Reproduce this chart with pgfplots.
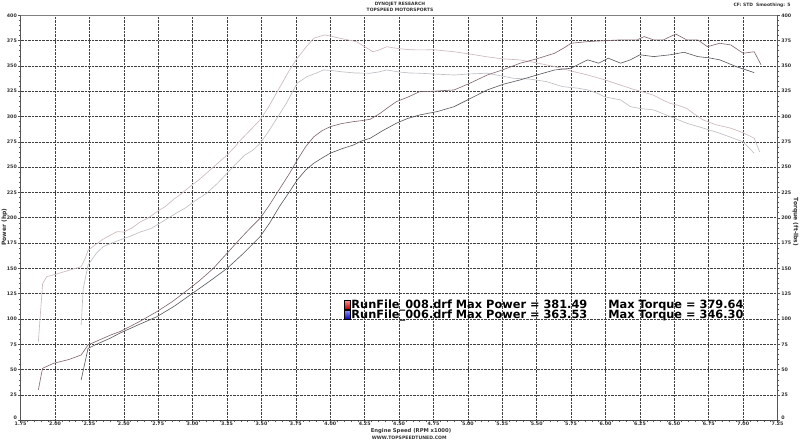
\documentclass[border=0pt]{standalone}
\usepackage{fontspec}
\setmainfont{DejaVu Sans}
\usepackage{pgfplots}
\pgfplotsset{compat=1.18}
\definecolor{pwA}{HTML}{7E6268}
\definecolor{pwB}{HTML}{55555E}
\definecolor{tqA}{HTML}{CDB8BC}
\definecolor{tqB}{HTML}{BEBEC6}
\definecolor{axc}{HTML}{555555}
\definecolor{lblc}{HTML}{333333}
\newcommand{\tickfont}{\fontsize{4.8}{5.5}\selectfont\bfseries}
\begin{document}
\begin{tikzpicture}
\begin{axis}[
  at={(0,0)}, anchor=south west,
  scale only axis, width=757bp, height=405bp,
  xmin=1.75, xmax=7.25, ymin=0, ymax=400,
  axis x line*=bottom, axis y line*=left,
  axis line style={-, draw=axc, line width=1.3bp},
  xtick={1.75,2.00,2.25,2.50,2.75,3.00,3.25,3.50,3.75,4.00,4.25,4.50,4.75,5.00,5.25,5.50,5.75,6.00,6.25,6.50,6.75,7.00,7.25},
  ytick={25,50,...,400},
  extra y ticks={0},
  extra y tick style={yticklabel style={yshift=2.5bp}},
  minor x tick num=4, minor y tick num=4,
  tick align=outside,
  major tick length=2.5bp, minor tick length=1.8bp,
  tick style={draw=axc, line width=0.5bp},
  grid=major,
  major grid style={densely dotted, draw=black!75, line width=0.6bp},
  /pgf/number format/assume math mode=true,
  xticklabel style={font=\tickfont, text=lblc, inner sep=0pt, yshift=0.6bp, /pgf/number format/.cd, fixed, fixed zerofill, precision=2},
  yticklabel style={font=\tickfont, text=lblc, inner sep=1bp},
  legend style={at={(axis cs:4.10,120)}, anchor=north west, draw=none, fill=none,
    font=\fontsize{11.4}{12}\selectfont\bfseries, inner sep=0pt, row sep=-1.5bp,
    nodes={inner sep=0.8bp}},
  legend cell align=left,
]
% 008 torque
\addplot[tqA, line width=0.65bp, forget plot] coordinates {
(1.879,77.6)(1.91,135)(1.94,141.9)(2.00,144)(2.11,148.5)(2.19,151.7)(2.22,160)(2.24,168)(2.30,174)(2.35,179)(2.45,186.3)(2.50,186)(2.56,190)(2.62,196)(2.68,200)(2.74,206)(2.80,211)(2.86,218)(2.92,224)(2.98,230.8)(3.05,238)(3.10,244)(3.15,250)(3.20,256)(3.25,262)(3.30,269)(3.35,277)(3.40,284)(3.45,291)(3.49,296.7)(3.55,309)(3.60,321)(3.65,333)(3.70,345)(3.76,357.6)(3.82,368)(3.88,377.4)(3.96,380.6)(4.02,379)(4.07,377.3)(4.19,374)(4.25,369)(4.31,364)(4.36,366)(4.41,369)(4.50,367)(4.58,366)(4.65,365.8)(4.75,366)(4.90,364)(5.00,362)(5.14,359)(5.25,357)(5.38,355.9)(5.50,353)(5.63,349.3)(5.75,345)(5.87,341)(6.00,336)(6.11,331)(6.20,327)(6.28,324)(6.35,321)(6.42,316)(6.47,313)(6.53,311)(6.59,308)(6.65,302)(6.71,296.6)(6.80,292)(6.91,288.5)(7.00,284)(7.08,278.6)(7.12,265)
};
% 006 torque
\addplot[tqB, line width=0.65bp, forget plot] coordinates {
(2.19,94)(2.205,130)(2.24,153.4)(2.30,165)(2.35,171.5)(2.41,175)(2.47,178)(2.55,182)(2.62,186)(2.70,189.6)(2.79,197)(2.88,204.5)(2.95,210)(3.02,217)(3.10,224)(3.18,234)(3.25,244)(3.32,254)(3.38,262)(3.44,267)(3.49,273.6)(3.55,285)(3.62,300)(3.68,313)(3.76,333)(3.83,339.4)(3.90,343)(3.95,346)(4.01,345.5)(4.07,344.4)(4.18,343)(4.29,342.8)(4.35,344)(4.41,346)(4.50,344)(4.58,343)(4.65,342.8)(4.75,342)(4.90,341)(5.00,342)(5.14,342.8)(5.25,340)(5.33,337.8)(5.45,337)(5.57,334.5)(5.63,332)(5.69,329.5)(5.80,328)(5.87,326.3)(5.94,323)(5.99,319.6)(6.05,318)(6.11,316.4)(6.18,309.8)(6.25,308)(6.35,306.5)(6.47,300)(6.59,293.4)(6.70,289)(6.83,283.5)(6.92,279)(7.00,275)(7.08,263.7)
};
% 008 power
\addplot[pwA, line width=0.6bp, forget plot] coordinates {
(1.879,30)(1.90,45)(1.91,51.4)(1.99,56.3)(2.10,60)(2.19,64.5)(2.24,74.4)(2.30,78)(2.40,84)(2.47,87.5)(2.55,93)(2.62,98)(2.74,107.3)(2.85,117)(2.98,130.4)(3.05,138)(3.15,150)(3.25,165)(3.35,180)(3.42,190)(3.49,199.5)(3.55,211)(3.62,226)(3.70,243)(3.76,257)(3.82,270)(3.88,280)(3.94,286)(4.00,290)(4.08,293)(4.17,295)(4.23,296)(4.29,297.3)(4.36,303)(4.42,309)(4.48,314.7)(4.56,319)(4.65,324.6)(4.75,325)(4.90,326.3)(5.00,332)(5.14,341)(5.25,346)(5.38,352.7)(5.50,357)(5.63,362.5)(5.70,368)(5.75,372.4)(5.87,374)(6.00,375)(6.11,375.7)(6.23,375.7)(6.28,379)(6.35,375.7)(6.42,375.7)(6.51,381.5)(6.59,375.7)(6.67,375.7)(6.74,369)(6.83,372.4)(6.91,370.7)(7.00,362.5)(7.08,364)(7.13,351)
};
% 006 power
\addplot[pwB, line width=0.6bp, forget plot] coordinates {
(2.19,39.8)(2.24,71)(2.30,75)(2.40,81)(2.47,86)(2.60,94)(2.74,102.3)(2.87,113)(3.00,125.5)(3.12,137)(3.25,150)(3.37,165)(3.49,181.4)(3.56,195)(3.63,211)(3.70,225)(3.76,237.4)(3.82,247)(3.88,253.9)(3.94,259)(4.00,263.8)(4.08,268)(4.17,272)(4.23,276)(4.29,278.6)(4.38,286)(4.48,293.4)(4.56,298)(4.65,301.6)(4.78,305)(4.90,309.8)(5.02,318)(5.14,326.3)(5.26,332)(5.38,336.2)(5.50,341)(5.63,346)(5.75,347.7)(5.81,352)(5.87,356)(5.95,352.7)(6.02,357.6)(6.11,352.7)(6.18,356)(6.25,361)(6.35,359.2)(6.47,361)(6.57,363.5)(6.67,359.2)(6.75,358)(6.83,356)(6.95,349.3)(7.08,343.4)
};
\addlegendimage{legend image code/.code={\shade[top color=red!45, bottom color=red!75!black] (0bp,-4bp) rectangle (6bp,4.5bp);}}
\addlegendentry{RunFile\_008.drf Max Power = 381.49\hspace{21bp}Max Torque = 379.64}
\addlegendimage{legend image code/.code={\shade[top color=blue!45, bottom color=blue!75!black] (0bp,-4bp) rectangle (6bp,4.5bp);}}
\addlegendentry{RunFile\_006.drf Max Power = 363.53\hspace{21bp}Max Torque = 346.30}
\draw[black!50, line width=0.5bp] (axis description cs:0,1) -- (axis description cs:1,1);
\end{axis}
\begin{axis}[
  at={(0,0)}, anchor=south west,
  scale only axis, width=757bp, height=405bp,
  xmin=1.75, xmax=7.25, ymin=0, ymax=400,
  axis x line=none, axis y line*=right,
  axis line style={-, draw=axc, line width=1.3bp},
  ytick={25,50,...,400},
  extra y ticks={0},
  extra y tick style={yticklabel style={yshift=2.5bp}},
  minor y tick num=4,
  tick align=outside,
  major tick length=2.5bp, minor tick length=1.8bp,
  tick style={draw=axc, line width=0.5bp},
  /pgf/number format/assume math mode=true,
  yticklabel style={font=\tickfont, text=lblc, inner sep=1bp},
]
\end{axis}
\node[font=\fontsize{4.5}{5}\selectfont\bfseries, text=lblc] at (379.4bp,416.3bp) {DYNOJET RESEARCH};
\node[font=\fontsize{4.5}{5}\selectfont\bfseries, text=lblc] at (379.4bp,410.3bp) {TOPSPEED MOTORSPORTS};
\node[font=\fontsize{4.5}{5}\selectfont\bfseries, text=lblc] at (741.4bp,415.3bp) {CF: STD\hspace{3bp}Smoothing: 5};
\node[font=\fontsize{6}{7}\selectfont\bfseries, text=lblc, rotate=90] at (-16.2bp,193.3bp) {Power (hp)};
\node[font=\fontsize{6}{7}\selectfont\bfseries, text=lblc, rotate=-90] at (774.8bp,198.3bp) {Torque (ft-lbs)};
\node[font=\fontsize{5.3}{6}\selectfont\bfseries, text=lblc, anchor=west, inner sep=0pt] at (350bp,-10.4bp) {Engine Speed (RPM x1000)};
\node[font=\fontsize{4.6}{5}\selectfont\bfseries, text=lblc, anchor=west, inner sep=0pt] at (351bp,-17.5bp) {WWW.TOPSPEEDTUNED.COM};
\pgfresetboundingbox
\path[use as bounding box] (-20.6bp,-20.7bp) rectangle (779.4bp,420.3bp);
\end{tikzpicture}
\end{document}
